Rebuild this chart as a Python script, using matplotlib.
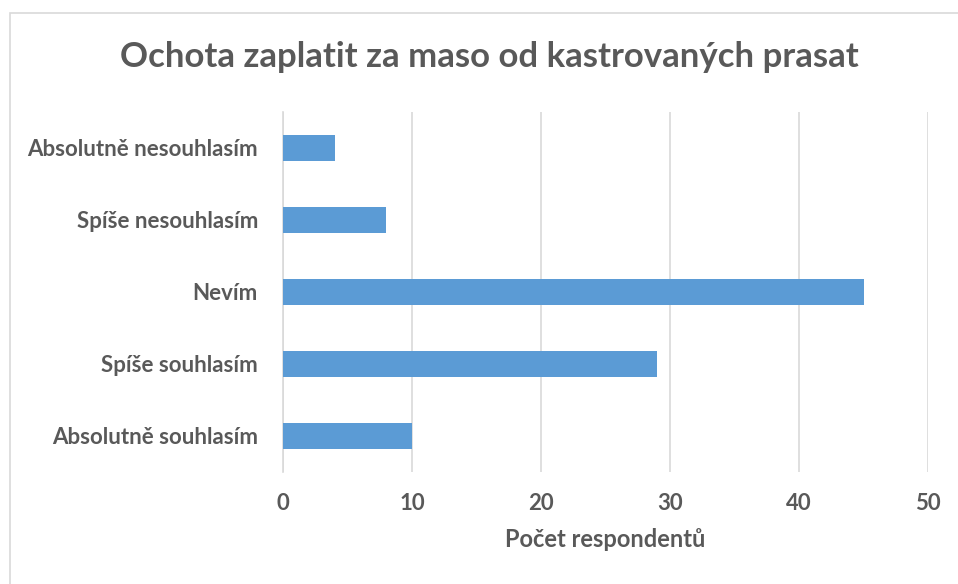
import matplotlib
matplotlib.use("Agg")
import matplotlib.pyplot as plt
from matplotlib.patches import Rectangle

categories = ["Absolutně nesouhlasím", "Spíše nesouhlasím", "Nevím", "Spíše souhlasím", "Absolutně souhlasím"]
values = [4, 8, 45, 29, 10]
xticks = [0, 10, 20, 30, 40, 50]
title = "Ochota zaplatit za maso od kastrovaných prasat"
xlabel = "Počet respondentů"

plt.rcParams['font.family'] = ['Lato', 'DejaVu Sans']
txt = '#595959'
W, H = 958, 584
fig = plt.figure(figsize=(W/100, H/100), dpi=100)
fig.patches.append(Rectangle((10/W, -0.2), 1.2, (H-13)/H + 0.2, transform=fig.transFigure,
                             fill=False, edgecolor='#d9d9d9', linewidth=1.2))

ax = fig.add_axes([283/W, 1-472/H, (928-283)/W, (472-112)/H])
y = list(range(len(categories)))
ax.barh(y, values, height=0.35, color='#5b9bd5', zorder=3)
ax.set_ylim(len(categories)-0.5, -0.5)
ax.set_xlim(0, 50)
ax.set_xticks(xticks)
ax.set_yticks(y)
ax.set_yticklabels(categories, fontsize=16, fontweight='bold', color=txt)
ax.set_xticklabels([str(t) for t in xticks], fontsize=16, fontweight='bold', color=txt)
ax.tick_params(axis='y', length=0, pad=18)
ax.tick_params(axis='x', length=0, pad=15)
ax.grid(axis='x', color='#d9d9d9', linewidth=1.2, zorder=0)
for s in ['top', 'right', 'bottom']:
    ax.spines[s].set_visible(False)
ax.spines['left'].set_color('#d9d9d9')
ax.spines['left'].set_linewidth(1.2)
ax.set_xlabel(xlabel, fontsize=17, fontweight='bold', color=txt, labelpad=10)
fig.text(489/W, 1-57/H, title, ha='center', va='center', fontsize=25, fontweight='bold', color=txt)
fig.savefig('out.png', dpi=100)
